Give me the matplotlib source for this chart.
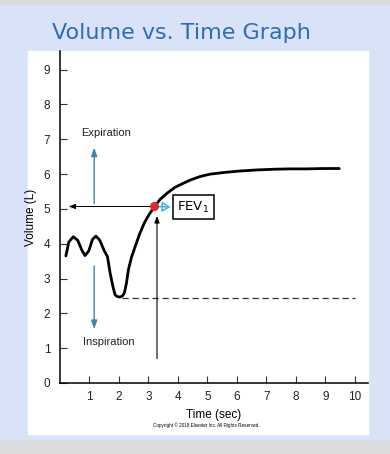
import matplotlib
matplotlib.use("Agg")
from matplotlib import pyplot as plt
from matplotlib.patches import Rectangle

# datos de la curva volumen vs tiempo
tiempo = [0.20, 0.30, 0.45, 0.60, 0.75, 0.85, 0.98, 1.10, 1.22, 1.35, 1.50, 1.61,
          1.70, 1.80, 1.87, 1.95, 2.04, 2.12, 2.18, 2.25, 2.32, 2.42, 2.55, 2.70,
          2.86, 3.03, 3.21, 3.40, 3.63, 3.90, 4.19, 4.42, 4.75, 5.10, 5.60, 6.12,
          6.70, 7.26, 7.80, 8.39, 8.90, 9.47]
volumen = [3.65, 4.05, 4.20, 4.10, 3.80, 3.66, 3.80, 4.12, 4.22, 4.10, 3.80, 3.63,
           3.16, 2.75, 2.53, 2.48, 2.47, 2.50, 2.58, 2.85, 3.25, 3.60, 3.92, 4.28,
           4.60, 4.85, 5.07, 5.28, 5.45, 5.62, 5.74, 5.83, 5.93, 6.00, 6.05, 6.09,
           6.12, 6.14, 6.15, 6.15, 6.16, 6.16]
vol_residual = 2.45
t_fev, v_fev = 3.2, 5.07
xticks = [1, 2, 3, 4, 5, 6, 7, 8, 9, 10]
yticks = [0, 1, 2, 3, 4, 5, 6, 7, 8, 9]

fig = plt.figure(figsize=(3.9, 4.54), dpi=100)
fig.patch.set_facecolor("#d8e3f8")
# franjas grises y panel blanco
fig.patches.append(Rectangle((0, 0.992), 1, 0.008, transform=fig.transFigure,
                             color="#dcdcdc", zorder=-2))
fig.patches.append(Rectangle((0, 0), 1, 0.028, transform=fig.transFigure,
                             color="#dcdcdc", zorder=-2))
fig.patches.append(Rectangle((0.072, 0.044), 0.872, 0.844, transform=fig.transFigure,
                             color="white", zorder=-2))

fig.text(0.133, 0.928, "Volume vs. Time Graph", color="#2f6db8", fontsize=16,
         family="DejaVu Sans", va="center", ha="left")

ax = fig.add_axes([0.1538, 0.1564, 0.7902, 0.7316])
ax.set_zorder(2)
ax.set_facecolor("none")
ax.set_xlim(0, 10.45)
ax.set_ylim(0, 9.54)
for s in ["top", "right"]:
    ax.spines[s].set_visible(False)
ax.spines["left"].set_linewidth(1.1)
ax.spines["bottom"].set_linewidth(1.1)
ax.set_xticks(xticks)
ax.set_yticks(yticks)
ax.tick_params(direction="in", length=5, width=0.8, labelsize=8.5, color="#333333",
               labelcolor="#222222")
ax.tick_params(axis="y", pad=7)
ax.tick_params(axis="x", pad=6)
for lab in ax.get_xticklabels() + ax.get_yticklabels():
    lab.set_family("Liberation Sans")
ax.set_xlabel("Time (sec)", fontsize=8.5, family="Liberation Sans", labelpad=4)
ax.set_ylabel("Volume (L)", fontsize=8.5, family="Liberation Sans", labelpad=5)

# curva
ax.plot(tiempo, volumen, color="black", lw=2.0, solid_capstyle="round")
ax.plot([2.1, 10.0], [vol_residual, vol_residual], color="#333333", lw=0.9,
        ls=(0, (5, 3)))

# flechas negras
ax.annotate("", xy=(0.2, v_fev), xytext=(t_fev, v_fev),
            arrowprops=dict(arrowstyle="-|>,head_length=0.4,head_width=0.15",
                            color="black", lw=0.7))
ax.annotate("", xy=(3.29, 4.88), xytext=(3.29, 0.62),
            arrowprops=dict(arrowstyle="-|>,head_length=0.4,head_width=0.15",
                            color="black", lw=0.8))

# flechas azules de expiracion / inspiracion
ax.annotate("", xy=(1.16, 6.84), xytext=(1.16, v_fev),
            arrowprops=dict(arrowstyle="-|>,head_length=0.5,head_width=0.18",
                            color="#3c88a8", lw=1.0))
ax.annotate("", xy=(1.16, 1.47), xytext=(1.16, 3.44),
            arrowprops=dict(arrowstyle="-|>,head_length=0.5,head_width=0.18",
                            color="#3c88a8", lw=1.0))
ax.text(1.56, 7.19, "Expiration", fontsize=8, family="Liberation Sans",
        ha="center", va="center", color="#222222")
ax.text(1.66, 1.18, "Inspiration", fontsize=8, family="Liberation Sans",
        ha="center", va="center", color="#222222")

# FEV1
ax.annotate("", xy=(3.85, 5.05), xytext=(t_fev, v_fev),
            arrowprops=dict(arrowstyle="-|>,head_length=0.5,head_width=0.3",
                            color="#45b8ec", lw=1.2, fc="none"))
ax.plot([t_fev], [v_fev], "o", color="#e02b2b", ms=5.5, zorder=5)
ax.text(4.52, 5.05, "FEV$_1$", fontsize=9.5, family="DejaVu Sans", ha="center",
        va="center", zorder=6,
        bbox=dict(boxstyle="square,pad=0.32", fc="white", ec="black", lw=1.1))

fig.text(0.53, 0.063, "Copyright \u00a9 2018 Elsevier Inc. All Rights Reserved.",
         fontsize=3.3, family="Liberation Sans", ha="center", va="center")

fig.savefig("out.png", dpi=100, facecolor=fig.get_facecolor())
